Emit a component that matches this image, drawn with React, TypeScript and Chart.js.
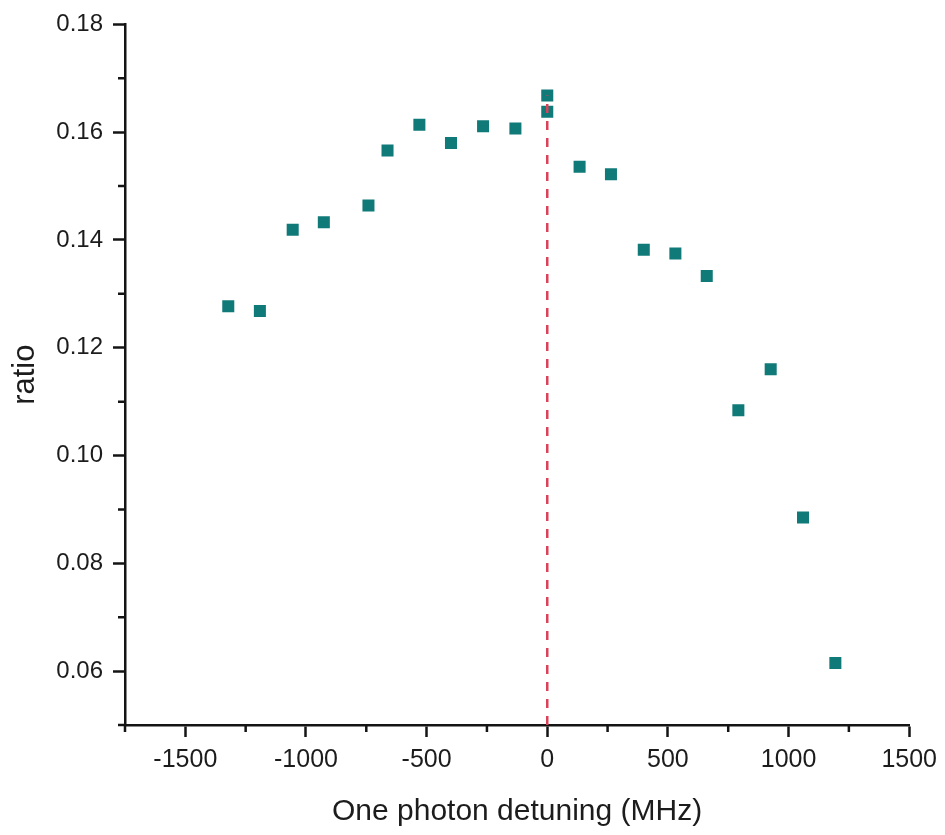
import React, { useEffect, useRef } from 'react';
import { Chart, registerables } from 'chart.js';
Chart.register(...registerables);

const detuning = [-1322, -1191, -1055, -926, -741, -662, -530, -399, -266, -132, 0, 0, 134, 264, 400, 531, 661, 792, 926, 1060, 1194];
const ratio = [0.1277, 0.1268, 0.1419, 0.1433, 0.1464, 0.1566, 0.1614, 0.158, 0.1611, 0.1607, 0.1668, 0.1638, 0.1536, 0.1522, 0.1382, 0.1375, 0.1333, 0.1084, 0.116, 0.0885, 0.0615];

const xMajorTicks = [-1500, -1000, -500, 0, 500, 1000, 1500];
const xMinorTicks = [-1750, -1250, -750, -250, 250, 750, 1250];
const yMajorTicks = [0.06, 0.08, 0.1, 0.12, 0.14, 0.16, 0.18];
const yMinorTicks = [0.05, 0.07, 0.09, 0.11, 0.13, 0.15, 0.17];

const resonanceX = [0, 0];
const resonanceY = [0.05, 0.1668];

const FONT = "'Liberation Sans', Arial, sans-serif";
const AXIS_COLOR = '#141414';
const TEXT_COLOR = '#1c1c1c';

const minorTicksPlugin = {
  id: 'minorTicks',
  afterDraw(chart: any) {
    const ctx = chart.ctx;
    const xs = chart.scales.x;
    const ys = chart.scales.y;
    ctx.save();
    ctx.strokeStyle = AXIS_COLOR;
    ctx.lineWidth = 2.5;
    ctx.beginPath();
    xMinorTicks.forEach((v) => {
      const px = xs.getPixelForValue(v);
      ctx.moveTo(px, xs.top);
      ctx.lineTo(px, xs.top + 7);
    });
    yMinorTicks.forEach((v) => {
      const py = ys.getPixelForValue(v);
      ctx.moveTo(ys.right, py);
      ctx.lineTo(ys.right - 7, py);
    });
    ctx.stroke();
    ctx.restore();
  },
};

export default function App() {
  const ref = useRef<HTMLCanvasElement | null>(null);
  useEffect(() => {
    if (!ref.current) return;
    const chart = new Chart(ref.current, {
      type: 'scatter',
      data: {
        datasets: [
          {
            label: 'resonance',
            data: resonanceX.map((x, i) => ({ x, y: resonanceY[i] })),
            showLine: true,
            borderColor: '#d9435a',
            borderWidth: 2.5,
            borderDash: [9, 8],
            pointRadius: 0,
            order: 0,
          },
          {
            label: 'ratio',
            data: detuning.map((x, i) => ({ x, y: ratio[i] })),
            backgroundColor: '#0f7a78',
            borderWidth: 0,
            pointStyle: 'rect',
            pointRadius: 8.5,
            order: 1,
          },
        ],
      },
      options: {
        animation: false,
        responsive: false,
        layout: { padding: { left: 0, top: 22, right: 33, bottom: 0 } },
        plugins: { legend: { display: false }, tooltip: { enabled: false } },
        scales: {
          x: {
            type: 'linear',
            min: -1750,
            max: 1500,
            afterBuildTicks: (s: any) => {
              s.ticks = xMajorTicks.map((v) => ({ value: v }));
            },
            afterFit: (s: any) => {
              s.height = 110;
            },
            border: { color: AXIS_COLOR, width: 2.5 },
            grid: { drawOnChartArea: false, tickLength: 12, tickColor: AXIS_COLOR, tickWidth: 2.5 },
            ticks: {
              color: TEXT_COLOR,
              font: { family: FONT, size: 25 },
              padding: 8,
              maxRotation: 0,
              callback: (v: any) => String(v),
            },
            title: {
              display: true,
              text: 'One photon detuning (MHz)',
              color: TEXT_COLOR,
              font: { family: FONT, size: 30 },
              padding: { top: 4, bottom: 5 },
            },
          },
          y: {
            type: 'linear',
            min: 0.05,
            max: 0.18,
            afterBuildTicks: (s: any) => {
              s.ticks = yMajorTicks.map((v) => ({ value: v }));
            },
            afterFit: (s: any) => {
              s.width = 125;
            },
            border: { color: AXIS_COLOR, width: 2.5 },
            grid: { drawOnChartArea: false, tickLength: 12, tickColor: AXIS_COLOR, tickWidth: 2.5 },
            ticks: {
              color: TEXT_COLOR,
              font: { family: FONT, size: 24 },
              padding: 10,
              callback: (v: any) => Number(v).toFixed(2),
            },
            title: {
              display: true,
              text: 'ratio',
              color: TEXT_COLOR,
              font: { family: FONT, size: 31 },
              padding: { top: 7, bottom: 0 },
            },
          },
        },
      },
      plugins: [minorTicksPlugin],
    });
    return () => chart.destroy();
  }, []);
  return (
    <div style={{ position: 'absolute', left: 0, top: 0, width: 945, height: 835, background: '#fff' }}>
      <canvas ref={ref} width={945} height={835} />
    </div>
  );
}
